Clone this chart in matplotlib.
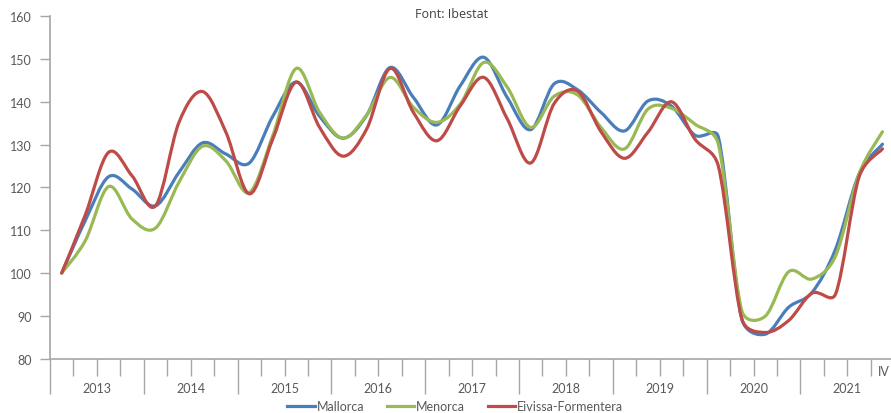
import matplotlib
matplotlib.use("Agg")
import matplotlib.pyplot as plt
from matplotlib.path import Path
from matplotlib.patches import PathPatch
from matplotlib.lines import Line2D

# quarterly index, 2013 Q1 .. 2021 Q4 (base 2013 Q1 = 100)
years = ["2013", "2014", "2015", "2016", "2017", "2018", "2019", "2020", "2021"]
mallorca = [100, 112.2, 122.5, 119.6, 115.7, 123.5, 130.4, 127.8, 125.7, 136.6,
            144.6, 136.6, 131.5, 136.8, 148.0, 141.0, 134.6, 143.8, 150.4, 141.0,
            133.5, 144.2, 142.8, 137.5, 133.2, 140.2, 139.0, 132.2, 131.8, 89.3,
            85.7, 92.0, 95.5, 105.6, 123.1, 130.1]
menorca = [100, 107.5, 120.2, 112.6, 110.5, 121.2, 129.6, 126.2, 118.8, 132.1,
           147.8, 137.5, 131.5, 136.9, 145.7, 138.7, 135.2, 139.5, 149.2, 143.4,
           134.0, 141.3, 141.6, 134.0, 129.0, 138.3, 138.5, 134.8, 130.1, 91.2,
           89.9, 100.3, 98.6, 104.0, 123.1, 133.0]
eivissa = [100, 113.5, 128.2, 122.7, 115.7, 135.2, 142.4, 132.9, 118.5, 131.3,
           144.6, 134.0, 127.3, 133.6, 147.8, 137.5, 130.9, 139.1, 145.7, 136.0,
           125.7, 139.6, 142.5, 133.0, 126.8, 132.9, 140.0, 131.3, 125.0, 89.3,
           86.1, 88.9, 95.3, 95.1, 122.4, 129.0]
series = [("Mallorca", mallorca, "#4A7EBB"),
          ("Menorca", menorca, "#98B954"),
          ("Eivissa-Formentera", eivissa, "#BE4B48")]

FONT = "Lato"
GREY = "#595959"
AXC = "#A6A6A6"
FS = 9


def smooth_path(ys, sx, sy):
    # excel style smoothed line: bezier with 1/6 tangents, capped at half
    # the segment length (distances measured in screen units sx, sy)
    xs = [i + 0.5 for i in range(len(ys))]
    pts = list(zip(xs, ys))
    n = len(pts)

    def dist(a, b):
        return (((a[0] - b[0]) * sx) ** 2 + ((a[1] - b[1]) * sy) ** 2) ** 0.5

    verts = [pts[0]]
    codes = [Path.MOVETO]
    for i in range(n - 1):
        p0 = pts[max(i - 1, 0)]
        p1 = pts[i]
        p2 = pts[i + 1]
        p3 = pts[min(i + 2, n - 1)]
        d12 = dist(p1, p2)
        d02 = dist(p0, p2)
        d13 = dist(p1, p3)
        f = 1 / 6 if d02 / 6 < d12 / 2 else d12 / (2 * d02)
        g = 1 / 6 if d13 / 6 < d12 / 2 else d12 / (2 * d13)
        c1 = (p1[0] + (p2[0] - p0[0]) * f, p1[1] + (p2[1] - p0[1]) * f)
        c2 = (p2[0] - (p3[0] - p1[0]) * g, p2[1] - (p3[1] - p1[1]) * g)
        verts += [c1, c2, p2]
        codes += [Path.CURVE4] * 3
    return Path(verts, codes)


fig = plt.figure(figsize=(8.91, 4.14), dpi=100)
ax = fig.add_axes([50 / 891, 54.4 / 414, 844.2 / 891, 342.4 / 414])

nq = len(mallorca)
ax.set_xlim(0, nq)
ax.set_ylim(80, 160)
px_x = 844.2 / nq
px_y = 342.4 / 80

for name, vals, col in series:
    ax.add_patch(PathPatch(smooth_path(vals, px_x, px_y), fill=False,
                           edgecolor=col, lw=2.3, capstyle="round",
                           joinstyle="round"))

ax.set_yticks(range(80, 161, 10))

for s in ["top", "right"]:
    ax.spines[s].set_visible(False)
for s in ["left", "bottom"]:
    ax.spines[s].set_color(AXC)
    ax.spines[s].set_linewidth(1.2)

ax.tick_params(axis="y", length=7, width=1, color=AXC, pad=6,
               labelsize=FS, labelcolor=GREY)
for lab in ax.get_yticklabels():
    lab.set_family(FONT)

ax.set_xticks(range(0, nq + 1, 4))
ax.set_xticks([i for i in range(1, nq) if i % 4], minor=True)
ax.tick_params(axis="x", which="major", length=25, width=1, color=AXC,
               labelbottom=False)
ax.tick_params(axis="x", which="minor", length=12.5, width=1, color=AXC)

tr = ax.get_xaxis_transform()
for i, yr in enumerate(years):
    ax.text(i * 4 + 2, -0.086, yr, transform=tr, ha="center", va="center",
            fontsize=FS, color=GREY, family=FONT)
ax.text(nq - 0.45, -0.036, "IV", transform=tr, ha="center", va="center",
        fontsize=FS, color=GREY, family=FONT)

fig.text(452 / 891, 1 - 14 / 414, "Font: Ibestat", ha="center", va="center",
         fontsize=9, color="#404040", family="Open Sans")

handles = [Line2D([], [], color=c, lw=2.3) for _, _, c in series]
fig.legend(handles, [n for n, _, _ in series], loc="center",
           bbox_to_anchor=(0.511, 0.016), ncol=3, frameon=False,
           handlelength=2.2, handletextpad=0.15, columnspacing=1.8,
           prop={"family": FONT, "size": FS}, labelcolor=GREY)

fig.savefig("out.png", dpi=100)
